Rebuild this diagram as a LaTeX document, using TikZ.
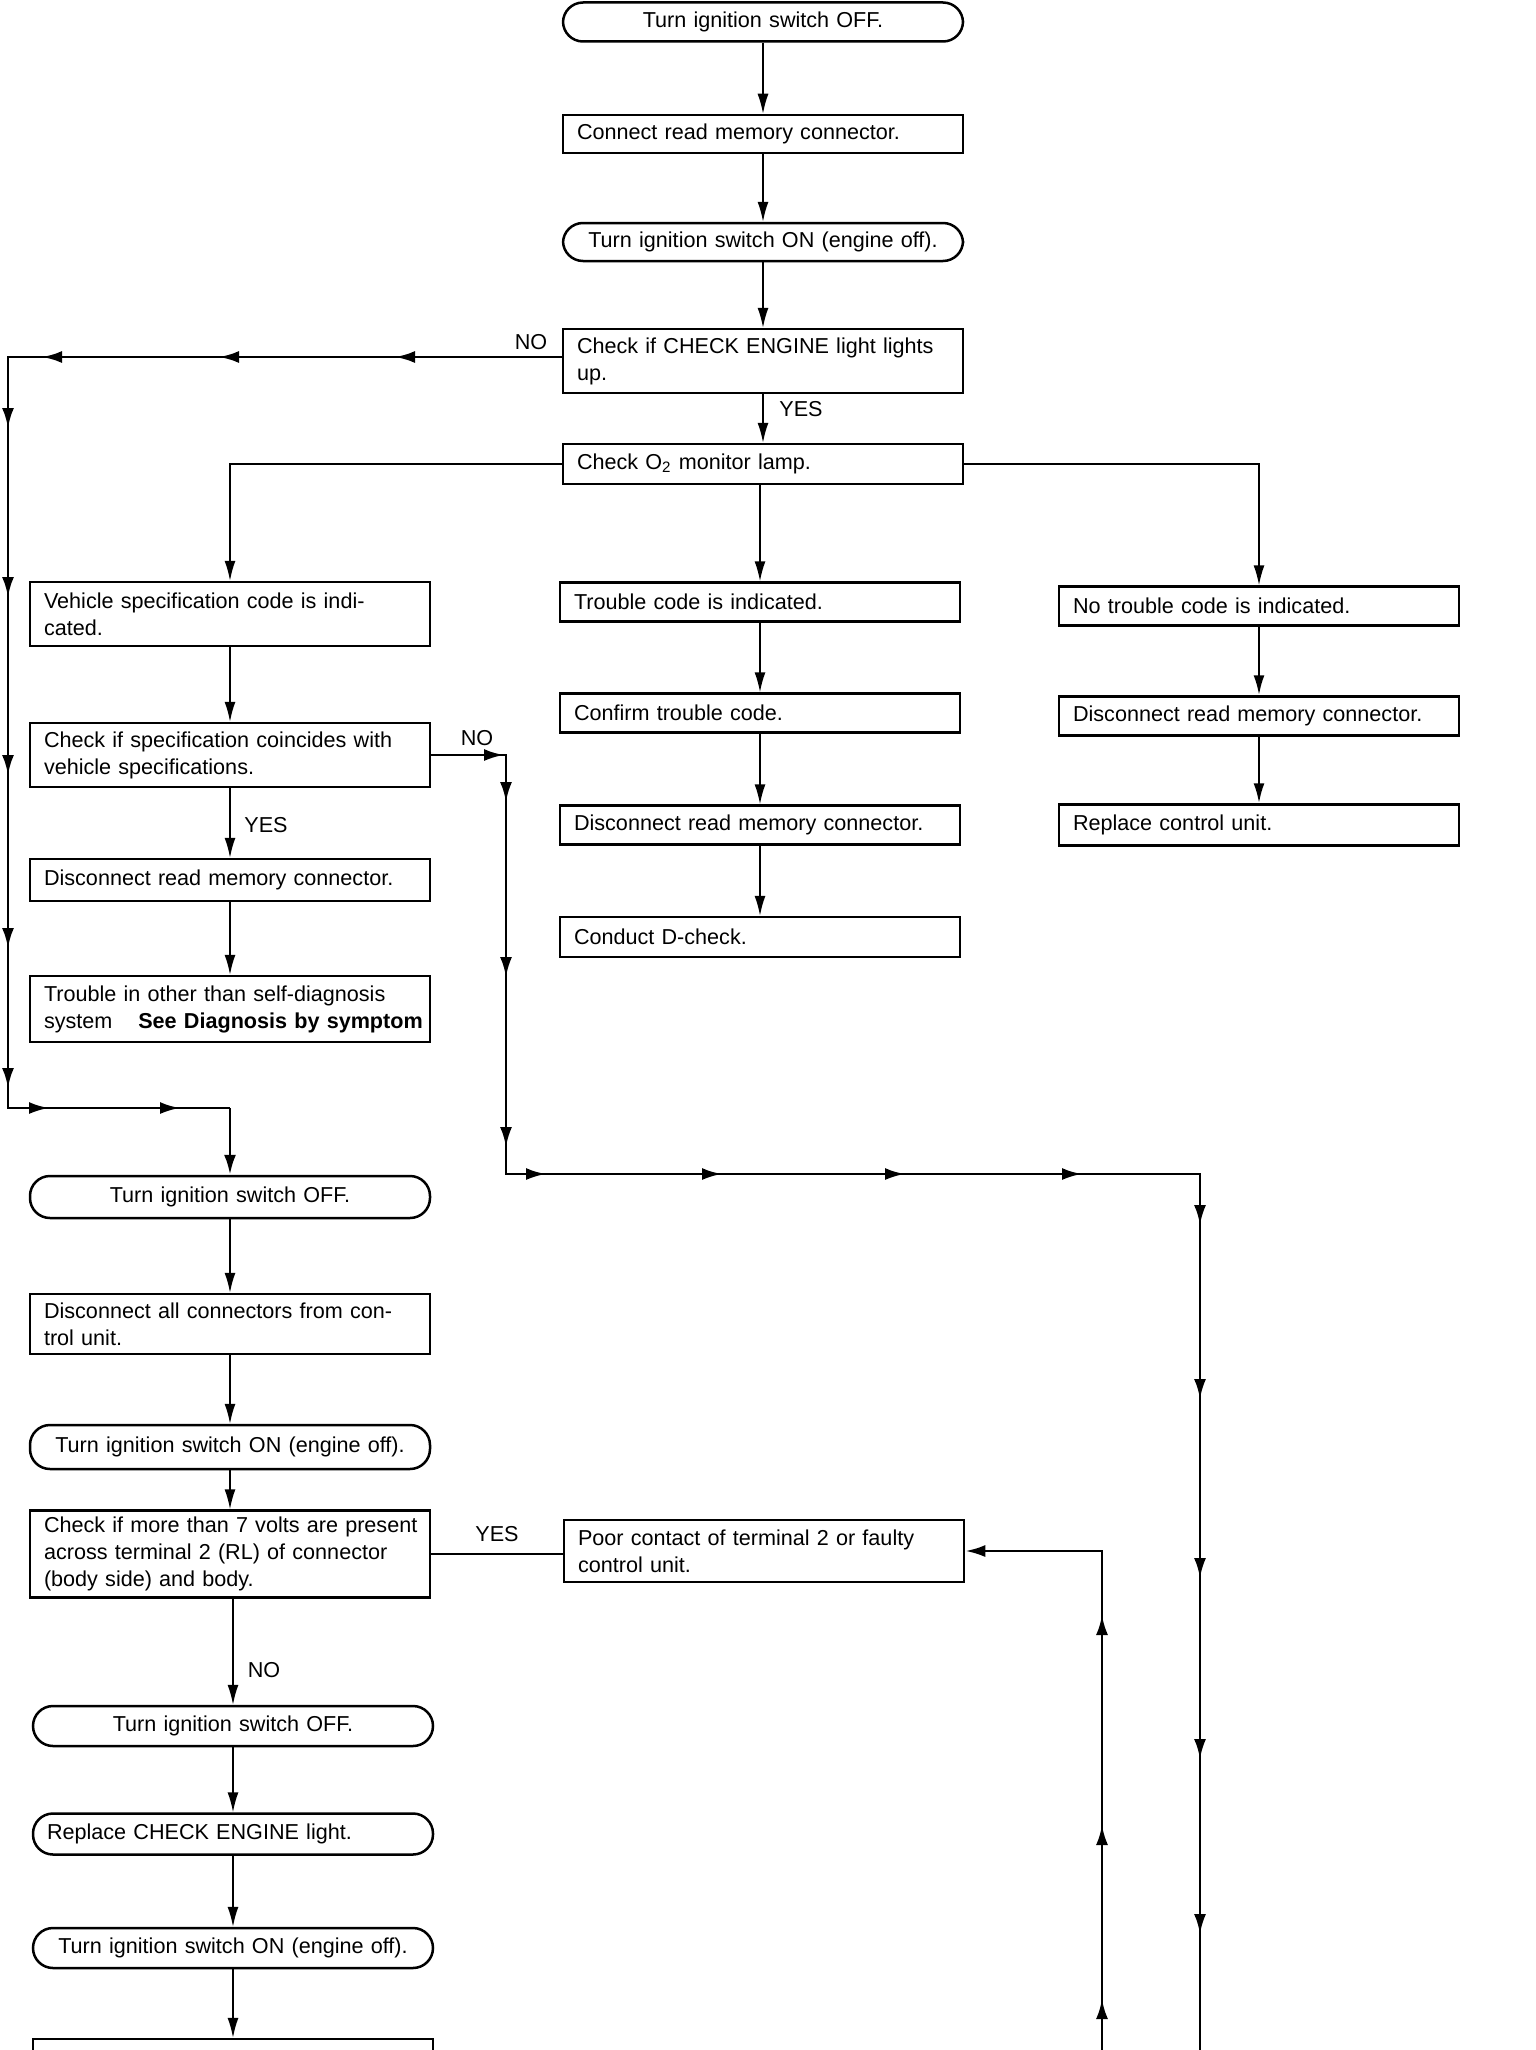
\documentclass[tikz,border=0pt]{standalone}
\usepackage{fontspec}
\setmainfont{Liberation Sans}
\usetikzlibrary{arrows.meta}
\newcommand\tipL[2]{\draw[mk] (#1+25,#2) -- (#1,#2);}
\newcommand\tipR[2]{\draw[mk] (#1-25,#2) -- (#1,#2);}
\newcommand\tipD[2]{\draw[mk] (#1,#2-25) -- (#1,#2);}
\newcommand\tipU[2]{\draw[mk] (#1,#2+25) -- (#1,#2);}
\begin{document}
\begin{tikzpicture}[x=0.5pt,y=-0.5pt,
  every node/.style={font=\fontsize{10.8pt}{13.5pt}\selectfont},
  box/.style={draw, line width=1.25pt, rectangle, minimum width=200pt, text width=186pt, inner xsep=7pt, inner ysep=3pt, align=left},
  rbox/.style={box, rounded corners=10pt, align=center},
  conn/.style={line width=0.8pt, -{Latex[length=10pt,width=5.5pt]}},
  route/.style={line width=1.4pt},
  mk/.style={line width=1.4pt, -{Latex[length=10pt,width=6pt]}},
  lab/.style={inner sep=0pt}
]
\useasboundingbox (0,0) rectangle (1536,2050);
\clip (0,0) rectangle (1536,2050);
% main column
\node[rbox, minimum height=19.5pt] (r1) at (763,22) {Turn ignition switch OFF.};
\node[box, minimum height=19pt] (b2) at (763,134) {Connect read memory connector.};
\node[rbox, minimum height=19pt] (r3) at (763,242) {Turn ignition switch ON (engine off).};
\node[box, minimum height=32pt] (b4) at (763,361) {Check if CHECK ENGINE light lights\\up.};
\node[box, minimum height=20pt] (b5) at (763,464) {Check O\textsubscript{2} monitor lamp.};
% three branches
\node[box, minimum height=32pt] (b6) at (230,614) {Vehicle specification code is indi-\\cated.};
\node[box, minimum height=19.5pt] (b7) at (760,602) {Trouble code is indicated.};
\node[box, minimum height=19.5pt] (b8) at (1259,606) {No trouble code is indicated.};
\node[box, minimum height=32pt] (b9) at (230,755) {Check if specification coincides with\\vehicle specifications.};
\node[box, minimum height=19.5pt] (b10) at (760,713) {Confirm trouble code.};
\node[box, minimum height=19.5pt] (b11) at (1259,716) {Disconnect read memory connector.};
\node[box, minimum height=19.5pt] (b12) at (760,825) {Disconnect read memory connector.};
\node[box, minimum height=20.5pt] (b13) at (1259,825) {Replace control unit.};
\node[box, minimum height=21pt] (b14) at (230,880) {Disconnect read memory connector.};
\node[box, minimum height=20pt] (b15) at (760,937) {Conduct D-check.};
\node[box, minimum height=33pt] (b16) at (230,1009) {\mbox{Trouble in other than self-diagnosis}\\\mbox{system\hspace{1.2em}\textbf{See Diagnosis by symptom}}};
% lower left column
\node[rbox, minimum height=21pt] (r17) at (230,1197) {Turn ignition switch OFF.};
\node[box, minimum height=30pt] (b18) at (230,1324) {Disconnect all connectors from con-\\trol unit.};
\node[rbox, minimum height=22pt] (r19) at (230,1447) {Turn ignition switch ON (engine off).};
\node[box, minimum height=43.5pt] (b20) at (230,1554) {\mbox{Check if more than 7 volts are present}\\\mbox{across terminal 2 (RL) of connector}\\\mbox{(body side) and body.}};
\node[box, minimum height=31pt] (b21) at (764,1551) {Poor contact of terminal 2 or faulty\\control unit.};
\node[rbox, minimum height=20pt] (r22) at (233,1726) {Turn ignition switch OFF.};
\node[rbox, minimum height=20.5pt, align=left] (r23) at (233,1834) {Replace CHECK ENGINE light.};
\node[rbox, minimum height=20pt] (r24) at (233,1948) {Turn ignition switch ON (engine off).};
\node[box, minimum height=40pt] (b25) at (233,2079) {};
% route coordinates
\coordinate (c1) at (8,357);
\coordinate (c2) at (8,1108);
\coordinate (c3) at (230,1108);
\coordinate (c4) at (506,755);
\coordinate (c5) at (506,1174);
\coordinate (c6) at (1200,1174);
\coordinate (c7) at (1200,2070);
\coordinate (c8) at (1102,2070);
\coordinate (c9) at (1102,1551);
% main connectors
\draw[conn] (r1) -- (b2);
\draw[conn] (b2) -- (r3);
\draw[conn] (r3) -- (b4);
\draw[conn] (b4) -- (b5);
\draw[conn] (b7.north |- b5.south) -- (b7.north);
\draw[conn] (b5.west) -| (b6.north);
\draw[conn] (b5.east) -| (b8.north);
\draw[conn] (b7) -- (b10);
\draw[conn] (b10) -- (b12);
\draw[conn] (b12) -- (b15);
\draw[conn, line width=1.2pt] (b8) -- (b11);
\draw[conn, line width=1.2pt] (b11) -- (b13);
\draw[conn] (b6) -- (b9);
\draw[conn] (b9) -- (b14);
\draw[conn] (b14) -- (b16);
\draw[conn] (r17) -- (b18);
\draw[conn] (b18) -- (r19);
\draw[conn] (r19) -- (b20);
\draw[line width=0.8pt] (b20.east) -- (b20.east -| b21.west);
\draw[conn] (r22.north |- b20.south) -- (r22.north);
\draw[conn] (r22) -- (r23);
\draw[conn] (r23) -- (r24);
\draw[conn] (r24.south) -- (b25.north);
% NO route from CHECK ENGINE check
\draw[route] (b4.west |- c1) -- (c1) -- (c2) -- (c3);
\draw[route, -{Latex[length=10pt,width=6pt]}] (c3) -- (r17.north);
\tipL{42}{357}\tipL{219}{357}\tipL{395}{357}
\tipD{8}{428}\tipD{8}{597}\tipD{8}{775}\tipD{8}{948}\tipD{8}{1088}
\tipR{49}{1108}\tipR{180}{1108}
% NO route from specification check
\draw[route] (b9.east) -- (c4) -- (c5) -- (c6) -- (c7);
\tipR{504}{755}
\tipD{506}{802}\tipD{506}{977}\tipD{506}{1147}
\tipR{546}{1174}\tipR{722}{1174}\tipR{905}{1174}\tipR{1082}{1174}
\tipD{1200}{1225}\tipD{1200}{1399}\tipD{1200}{1578}\tipD{1200}{1759}\tipD{1200}{1934}
% return route to poor contact box
\draw[route, -{Latex[length=10pt,width=6pt]}] (c8) -- (c9) -- (b21.east);
\tipU{1102}{1615}\tipU{1102}{1825}\tipU{1102}{1999}
% labels
\node[lab] (l1) at (531,342) {NO};
\node[lab] (l2) at (801,409) {YES};
\node[lab] (l3) at (477,738) {NO};
\node[lab] (l4) at (266,825) {YES};
\node[lab] (l5) at (497,1534) {YES};
\node[lab] (l6) at (264,1670) {NO};
\end{tikzpicture}
\end{document}
